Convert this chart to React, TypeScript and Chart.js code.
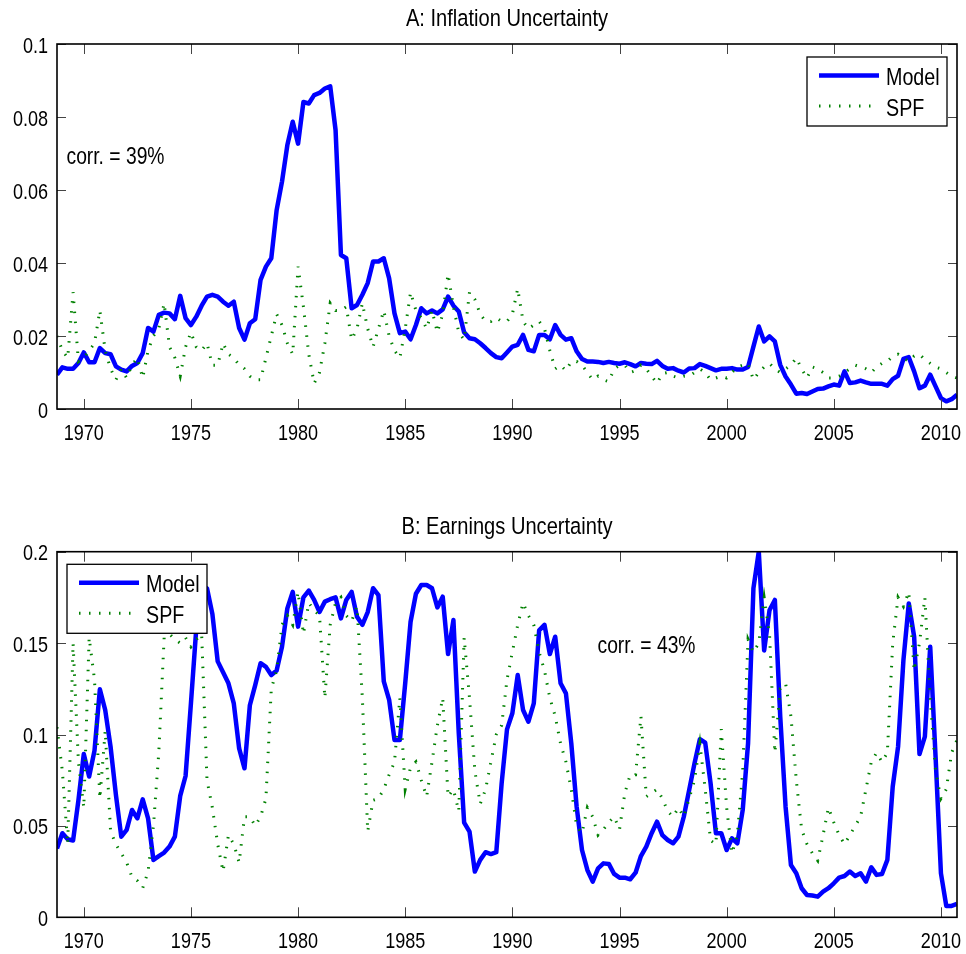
import React, { useEffect, useRef } from 'react';
import { Chart, registerables } from 'chart.js';

Chart.register(...registerables);

// ---------- data ----------
const FIRST_QUARTER = 1968.75;
const LAST_QUARTER = 2010.75;
const quarters: number[] = Array.from({ length: 169 }, (_, i) => FIRST_QUARTER + i * 0.25);

const xTickValues = [1970, 1975, 1980, 1985, 1990, 1995, 2000, 2005, 2010];
const xTickLabels = ['1970', '1975', '1980', '1985', '1990', '1995', '2000', '2005', '2010'];

const yTicksInflation = [0, 0.02, 0.04, 0.06, 0.08, 0.1];
const yTickLabelsInflation = ['0', '0.02', '0.04', '0.06', '0.08', '0.1'];
const yTicksEarnings = [0, 0.05, 0.1, 0.15, 0.2];
const yTickLabelsEarnings = ['0', '0.05', '0.1', '0.15', '0.2'];

const seriesLabels = ['Model', 'SPF'];

// quarterly values, 1968Q4 then four per year 1969..2010
const modelInflation = [
  0.0094,
  0.0114, 0.011, 0.011, 0.0126,
  0.0155, 0.0128, 0.0128, 0.0167,
  0.0153, 0.015, 0.0117, 0.0108,
  0.0103, 0.0118, 0.0126, 0.0153,
  0.0222, 0.0212, 0.0258, 0.0264,
  0.0262, 0.0246, 0.031, 0.0249,
  0.023, 0.0253, 0.0283, 0.0308,
  0.0313, 0.0308, 0.0294, 0.0283,
  0.0294, 0.0222, 0.019, 0.0235,
  0.0246, 0.0354, 0.039, 0.0413,
  0.0545, 0.0623, 0.0723, 0.0787,
  0.0727, 0.0841, 0.0837, 0.086,
  0.0866, 0.0878, 0.0884, 0.0764,
  0.0422, 0.0413, 0.0276, 0.0285,
  0.0313, 0.0345, 0.0404, 0.0404,
  0.0413, 0.0358, 0.0262, 0.0208,
  0.0212, 0.0191, 0.023, 0.0276,
  0.0262, 0.027, 0.0262, 0.0273,
  0.0308, 0.0283, 0.0267, 0.021,
  0.0194, 0.0191, 0.018, 0.0167,
  0.0153, 0.0142, 0.0139, 0.0155,
  0.0171, 0.0176, 0.0203, 0.0162,
  0.0158, 0.0203, 0.0203, 0.0191,
  0.023, 0.0203, 0.019, 0.0194,
  0.0158, 0.0137, 0.013, 0.013,
  0.0129, 0.0126, 0.0129, 0.0126,
  0.0124, 0.0128, 0.0123, 0.0117,
  0.0126, 0.0124, 0.0123, 0.0132,
  0.0118, 0.011, 0.0112, 0.0105,
  0.01, 0.0111, 0.0112, 0.0123,
  0.0118, 0.0112, 0.0106, 0.011,
  0.011, 0.0112, 0.0108, 0.0108,
  0.0115, 0.0171, 0.0226, 0.0185,
  0.0199, 0.0185, 0.0121, 0.0089,
  0.0067, 0.0042, 0.0044, 0.0041,
  0.0048, 0.0055, 0.0056, 0.0062,
  0.0067, 0.0064, 0.0103, 0.0071,
  0.0073, 0.0078, 0.0073, 0.0069,
  0.0069, 0.0069, 0.0064, 0.0082,
  0.0091, 0.0137, 0.0142, 0.0103,
  0.0057, 0.0064, 0.0094, 0.0062,
  0.003, 0.0021, 0.0027, 0.0039,
];

const spfInflation = [
  0.02,
  0.016, 0.014, 0.032, 0.013,
  0.014, 0.016, 0.018, 0.027,
  0.016, 0.011, 0.008, 0.011,
  0.0085, 0.012, 0.014, 0.0085,
  0.016, 0.02, 0.022, 0.029,
  0.017, 0.014, 0.009, 0.017,
  0.021, 0.017, 0.016, 0.018,
  0.012, 0.012, 0.018, 0.015,
  0.014, 0.012, 0.011, 0.009,
  0.008, 0.008, 0.014, 0.02,
  0.026, 0.023, 0.018, 0.015,
  0.039, 0.028, 0.015, 0.007,
  0.01, 0.018, 0.029, 0.027,
  0.027, 0.028, 0.019, 0.022,
  0.029, 0.022, 0.017, 0.022,
  0.027, 0.02, 0.016, 0.014,
  0.022, 0.032, 0.027, 0.025,
  0.022, 0.027, 0.021, 0.026,
  0.037, 0.028, 0.021, 0.019,
  0.032, 0.03, 0.026, 0.024,
  0.024, 0.025, 0.024, 0.024,
  0.026, 0.033, 0.024, 0.022,
  0.023, 0.024, 0.022, 0.016,
  0.011, 0.012, 0.0105, 0.013,
  0.013, 0.012, 0.01, 0.008,
  0.009, 0.008, 0.0075, 0.011,
  0.012, 0.012, 0.01, 0.0105,
  0.012, 0.011, 0.009, 0.007,
  0.0097, 0.01, 0.009, 0.0085,
  0.009, 0.009, 0.01, 0.011,
  0.01, 0.008, 0.0085, 0.009,
  0.0085, 0.01, 0.0115, 0.012,
  0.0125, 0.008, 0.01, 0.0115,
  0.0125, 0.011, 0.01, 0.011,
  0.012, 0.014, 0.011, 0.0085,
  0.0115, 0.011, 0.01, 0.0085,
  0.0085, 0.009, 0.01, 0.011,
  0.012, 0.0115, 0.011, 0.01,
  0.0115, 0.0125, 0.013, 0.0145,
  0.015, 0.014, 0.013, 0.0145,
  0.015, 0.0135, 0.0125, 0.0115,
  0.011, 0.01, 0.009, 0.0085,
];

const modelEarnings = [
  0.0377,
  0.046, 0.0427, 0.042, 0.064,
  0.0893, 0.077, 0.0912, 0.1247,
  0.1134, 0.0933, 0.0669, 0.0441,
  0.0478, 0.0587, 0.0541, 0.0645,
  0.0541, 0.0314, 0.0335, 0.0354,
  0.0387, 0.0441, 0.0664, 0.0773,
  0.117, 0.158, 0.172, 0.18,
  0.166, 0.14, 0.134, 0.128,
  0.117, 0.0924, 0.0815, 0.116,
  0.127, 0.139, 0.137, 0.1325,
  0.135, 0.148, 0.169, 0.178,
  0.159, 0.175, 0.1787, 0.1736,
  0.167, 0.1727, 0.174, 0.175,
  0.1635, 0.1736, 0.178, 0.1644,
  0.16, 0.167, 0.18, 0.1763,
  0.129, 0.119, 0.097, 0.097,
  0.128, 0.1617, 0.177, 0.1818,
  0.1818, 0.18, 0.1695, 0.1754,
  0.144, 0.1626, 0.1006, 0.0518,
  0.0469, 0.025, 0.0314, 0.0356,
  0.0346, 0.0356, 0.0733, 0.1028,
  0.1116, 0.1325, 0.1134, 0.107,
  0.117, 0.157, 0.16, 0.144,
  0.1535, 0.128, 0.1225, 0.0952,
  0.0605, 0.0368, 0.0259, 0.0195,
  0.0268, 0.0295, 0.0292, 0.0237,
  0.0217, 0.0217, 0.0208, 0.0244,
  0.0335, 0.0387, 0.046, 0.0523,
  0.045, 0.0423, 0.0405, 0.0441,
  0.055, 0.0696, 0.0842, 0.0974,
  0.0955, 0.0733, 0.046, 0.046,
  0.0368, 0.0432, 0.0405, 0.0587,
  0.0952, 0.18, 0.2, 0.146,
  0.168, 0.1736, 0.11, 0.0605,
  0.0286, 0.0241, 0.0159, 0.0122,
  0.0119, 0.0113, 0.014, 0.0159,
  0.0186, 0.0217, 0.0226, 0.025,
  0.0226, 0.0241, 0.0195, 0.0273,
  0.0232, 0.0237, 0.0314, 0.0715,
  0.0933, 0.1407, 0.1717, 0.1535,
  0.0893, 0.0988, 0.148, 0.0879,
  0.0241, 0.0062, 0.0062, 0.0073,
];

const spfEarnings = [
  0.104,
  0.08, 0.04, 0.15, 0.085,
  0.06, 0.153, 0.13, 0.065,
  0.102, 0.047, 0.04, 0.035,
  0.03, 0.022, 0.02, 0.016,
  0.025, 0.05, 0.09, 0.153,
  0.155, 0.152, 0.15, 0.153,
  0.148, 0.152, 0.155, 0.075,
  0.06, 0.04, 0.025, 0.045,
  0.04, 0.03, 0.055, 0.055,
  0.05, 0.055, 0.065, 0.125,
  0.135, 0.16, 0.165, 0.16,
  0.178, 0.155, 0.172, 0.168,
  0.165, 0.12, 0.16, 0.172,
  0.175, 0.165, 0.162, 0.17,
  0.12, 0.047, 0.064, 0.065,
  0.07, 0.078, 0.085, 0.12,
  0.07, 0.082, 0.085, 0.075,
  0.066, 0.085, 0.105, 0.12,
  0.066, 0.07, 0.058, 0.153,
  0.12, 0.08, 0.062, 0.07,
  0.085, 0.1, 0.105, 0.13,
  0.145, 0.16, 0.172, 0.165,
  0.16, 0.145, 0.135, 0.12,
  0.11, 0.095, 0.085, 0.07,
  0.05, 0.046, 0.06, 0.055,
  0.045, 0.048, 0.052, 0.055,
  0.048, 0.068, 0.078, 0.078,
  0.11, 0.066, 0.068, 0.07,
  0.065, 0.058, 0.055, 0.06,
  0.055, 0.065, 0.075, 0.095,
  0.07, 0.042, 0.04, 0.103,
  0.06, 0.035, 0.045, 0.08,
  0.152, 0.145, 0.15, 0.175,
  0.155, 0.09, 0.125, 0.128,
  0.11, 0.075, 0.048, 0.04,
  0.035, 0.031, 0.045, 0.06,
  0.052, 0.045, 0.04, 0.045,
  0.05, 0.055, 0.07, 0.085,
  0.09, 0.085, 0.09, 0.15,
  0.175, 0.17, 0.178, 0.135,
  0.15, 0.175, 0.12, 0.08,
  0.065, 0.07, 0.09, 0.097,
];

// ---------- styling ----------
const FONT = "'Liberation Sans', Arial, Helvetica, sans-serif";
const SQUEEZE = 0.82; // narrow (Helvetica-Narrow-like) rendering of the labels
const BLUE = '#0000ff';
const GREEN = 'rgb(0,128,0)';
const DOTS = [1.5, 8.5];
const CANVAS_W = 966;
const CANVAS_H = 477;

type Panel = {
  title: string;
  model: number[];
  spf: number[];
  yTicks: number[];
  yLabels: string[];
  yMax: number;
  corr: string;
  corrX: number;
  corrY: number;
  legendBox: [number, number, number, number];
  padTop: number;
  xAxisHeight: number;
};

const panels: Panel[] = [
  {
    title: 'A: Inflation Uncertainty',
    model: modelInflation,
    spf: spfInflation,
    yTicks: yTicksInflation,
    yLabels: yTickLabelsInflation,
    yMax: 0.1,
    corr: 'corr. = 39%',
    corrX: 66.5,
    corrY: 164,
    legendBox: [807, 57, 140, 69],
    padTop: 44,
    xAxisHeight: 68,
  },
  {
    title: 'B: Earnings Uncertainty',
    model: modelEarnings,
    spf: spfEarnings,
    yTicks: yTicksEarnings,
    yLabels: yTickLabelsEarnings,
    yMax: 0.2,
    corr: 'corr. = 43%',
    corrX: 597.5,
    corrY: 176,
    legendBox: [67, 87.3, 140, 69],
    padTop: 74.7,
    xAxisHeight: 36.7,
  },
];

function narrowText(
  ctx: CanvasRenderingContext2D,
  text: string,
  x: number,
  y: number,
  size: number,
  align: CanvasTextAlign,
) {
  ctx.font = `${size}px ${FONT}`;
  ctx.textAlign = align;
  ctx.textBaseline = 'alphabetic';
  ctx.fillStyle = '#000';
  const w = ctx.measureText(text).width;
  ctx.fillText(text, x, y, w * SQUEEZE);
}

function framePlugin(p: Panel) {
  return {
    id: 'matlabFrame',
    afterDatasetsDraw(chart: any) {
      const { ctx, chartArea: a, scales } = chart;
      ctx.save();
      // inward tick marks on all four sides
      ctx.strokeStyle = '#444';
      ctx.lineWidth = 1;
      ctx.beginPath();
      for (const v of xTickValues) {
        const px = Math.round(scales.x.getPixelForValue(v)) + 0.5;
        ctx.moveTo(px, a.bottom);
        ctx.lineTo(px, a.bottom - 10);
        ctx.moveTo(px, a.top);
        ctx.lineTo(px, a.top + 10);
      }
      for (const v of p.yTicks) {
        const py = Math.round(scales.y.getPixelForValue(v)) + 0.5;
        ctx.moveTo(a.left, py);
        ctx.lineTo(a.left + 9, py);
        ctx.moveTo(a.right, py);
        ctx.lineTo(a.right - 9, py);
      }
      ctx.stroke();
      // axes box
      ctx.strokeStyle = '#000';
      ctx.lineWidth = 1.6;
      ctx.strokeRect(a.left, a.top, a.right - a.left, a.bottom - a.top);

      // tick labels from the chart's own scales
      xTickValues.forEach((v, i) => {
        narrowText(ctx, xTickLabels[i], scales.x.getPixelForValue(v), a.bottom + 31, 22, 'center');
      });
      p.yTicks.forEach((v, i) => {
        narrowText(ctx, p.yLabels[i], a.left - 9, scales.y.getPixelForValue(v) + 8.5, 22, 'right');
      });

      // panel title
      narrowText(ctx, p.title, (a.left + a.right) / 2, a.top - 18, 24.5, 'center');

      // correlation note
      narrowText(ctx, p.corr, p.corrX, p.corrY, 23.5, 'left');

      // legend
      const [lx, ly, lw, lh] = p.legendBox;
      ctx.fillStyle = '#fff';
      ctx.fillRect(lx, ly, lw, lh);
      ctx.strokeStyle = '#000';
      ctx.lineWidth = 1.3;
      ctx.strokeRect(lx, ly, lw, lh);
      const row1 = ly + 18.5;
      const row2 = ly + 49;
      ctx.lineCap = 'butt';
      ctx.strokeStyle = BLUE;
      ctx.lineWidth = 4.5;
      ctx.beginPath();
      ctx.moveTo(lx + 12, row1);
      ctx.lineTo(lx + 72, row1);
      ctx.stroke();
      ctx.strokeStyle = GREEN;
      ctx.lineWidth = 3;
      ctx.setLineDash(DOTS);
      ctx.beginPath();
      ctx.moveTo(lx + 12, row2);
      ctx.lineTo(lx + 72, row2);
      ctx.stroke();
      ctx.setLineDash([]);
      narrowText(ctx, seriesLabels[0], lx + 79, row1 + 9.5, 24, 'left');
      narrowText(ctx, seriesLabels[1], lx + 79, row2 + 9.5, 24, 'left');
      ctx.restore();
    },
  };
}

function makeChart(canvas: HTMLCanvasElement, p: Panel) {
  return new Chart(canvas, {
    type: 'line',
    data: {
      datasets: [
        {
          label: seriesLabels[1],
          data: quarters.map((x, i) => ({ x, y: p.spf[i] })),
          borderColor: GREEN,
          borderWidth: 3,
          borderDash: DOTS,
          borderCapStyle: 'butt',
          pointRadius: 0,
          fill: false,
          tension: 0,
        },
        {
          label: seriesLabels[0],
          data: quarters.map((x, i) => ({ x, y: p.model[i] })),
          borderColor: BLUE,
          borderWidth: 4.5,
          borderJoinStyle: 'round',
          pointRadius: 0,
          fill: false,
          tension: 0,
        },
      ],
    },
    options: {
      responsive: false,
      animation: false,
      devicePixelRatio: 1,
      events: [],
      layout: { padding: { left: 0, right: 9, top: p.padTop, bottom: 0 } },
      plugins: {
        legend: { display: false },
        tooltip: { enabled: false },
        title: { display: false, text: p.title },
      },
      scales: {
        x: {
          type: 'linear',
          min: FIRST_QUARTER,
          max: LAST_QUARTER,
          grid: { display: false, drawTicks: false },
          border: { display: false },
          afterBuildTicks: (s: any) => {
            s.ticks = xTickValues.map((v) => ({ value: v }));
          },
          afterFit: (s: any) => {
            s.height = p.xAxisHeight;
          },
          ticks: { display: false, autoSkip: false },
        },
        y: {
          type: 'linear',
          min: 0,
          max: p.yMax,
          grid: { display: false, drawTicks: false },
          border: { display: false },
          afterBuildTicks: (s: any) => {
            s.ticks = p.yTicks.map((v) => ({ value: v }));
          },
          afterFit: (s: any) => {
            s.width = 57;
          },
          ticks: { display: false, autoSkip: false },
        },
      },
    },
    plugins: [framePlugin(p)],
  } as any);
}

function PanelChart({ panel, top }: { panel: Panel; top: number }) {
  const ref = useRef<HTMLCanvasElement | null>(null);
  useEffect(() => {
    if (!ref.current) return;
    const chart = makeChart(ref.current, panel);
    return () => chart.destroy();
  }, [panel]);
  return (
    <canvas
      ref={ref}
      width={CANVAS_W}
      height={CANVAS_H}
      style={{ position: 'absolute', left: 0, top, width: CANVAS_W, height: CANVAS_H, display: 'block' }}
    />
  );
}

export default function App() {
  return (
    <div style={{ position: 'absolute', left: 0, top: 0, width: CANVAS_W, height: 954, background: '#fff' }}>
      <PanelChart panel={panels[0]} top={0} />
      <PanelChart panel={panels[1]} top={CANVAS_H} />
    </div>
  );
}
